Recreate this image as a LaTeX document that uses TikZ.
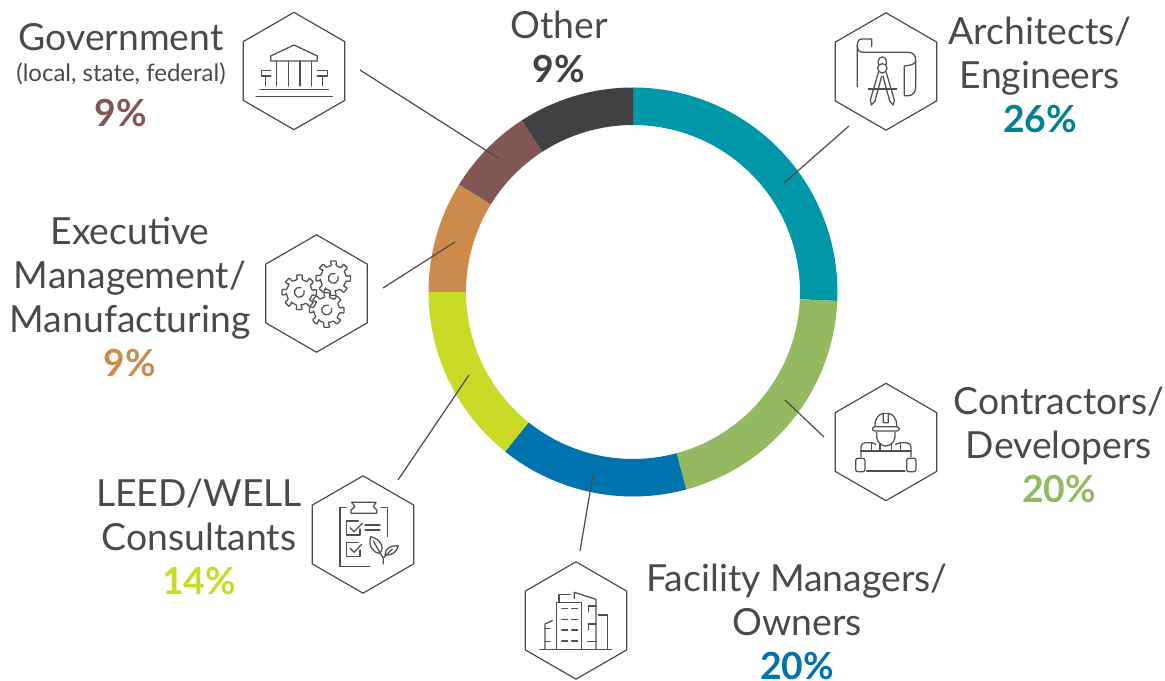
\documentclass[tikz,border=0pt]{standalone}
\usepackage{fontspec}
\setmainfont{Lato}
\usetikzlibrary{shapes.geometric}
\definecolor{ink}{HTML}{4A4A4C}
\definecolor{iconink}{HTML}{505052}
\definecolor{cteal}{HTML}{0097A9}
\definecolor{tteal}{HTML}{00818F}
\definecolor{cgreen}{HTML}{93BA60}
\definecolor{cblue}{HTML}{0072AE}
\definecolor{clime}{HTML}{CADB27}
\definecolor{corange}{HTML}{CC8A4B}
\definecolor{cbrown}{HTML}{835656}
\definecolor{cdark}{HTML}{414042}
\tikzset{
  x=0.75pt,y=-0.75pt,
  hexa/.style={shape=regular polygon,regular polygon sides=6,shape border rotate=30,draw=ink,line width=0.9pt,minimum size=88pt,inner sep=0pt},
  lead/.style={draw=ink,line width=0.9pt},
  lbl/.style={font=\fontsize{28}{33}\selectfont,text=ink,align=center,inner sep=0pt},
  icon/.style={draw=iconink,line width=0.95pt,line join=round,line cap=round},
  zoomed/.style={x=0.25pt,y=-0.25pt},
}
\newcommand{\gearicon}[2]{%
  \begin{scope}[shift={(#1,#2)}]
  \draw[icon,fill=white,rounded corners=0.6pt]
   (-8:13)
   \foreach \a in {0,45,...,315}{
     -- (\a-8:13) -- (\a-10:17.5) -- (\a+10:17.5) -- (\a+12:13) -- (\a+37:13)
   } -- cycle;
  \draw[icon] (-70:5) arc[start angle=70,end angle=380,radius=3.75pt];
  \end{scope}}
\begin{document}
\begin{tikzpicture}
\useasboundingbox (0,0) rectangle (1165,681);
% ring
\begin{scope}[shift={(633,292)},x=0.75pt,y=0.75pt]
\newcommand{\ringseg}[3]{\fill[#3] (#1:204.5) arc[start angle=#1,end angle=#2,radius=153.375pt] -- (#2:167) arc[start angle=#2,end angle=#1,radius=125.25pt] -- cycle;}
\ringseg{90}{-2.5}{cteal}
\ringseg{-2.5}{-74.9}{cgreen}
\ringseg{-74.9}{-128.7}{cblue}
\ringseg{231.3}{180}{clime}
\ringseg{180}{148.3}{corange}
\ringseg{148.3}{122.9}{cbrown}
\ringseg{122.9}{90}{cdark}
\end{scope}
% hexagons
\node[hexa] (hgov) at (294,71) {};
\node[hexa] (harch) at (886,71.5) {};
\node[hexa] (hexec) at (316.5,293.5) {};
\node[hexa] (hcont) at (886,442) {};
\node[hexa] (hleed) at (363,534.5) {};
\node[hexa] (hfac) at (576,620.5) {};
% connector ends
\coordinate (g1) at (360,70); \coordinate (g2) at (498,158);
\coordinate (a1) at (849,126); \coordinate (a2) at (784,183);
\coordinate (e1) at (383,288); \coordinate (e2) at (455,242);
\coordinate (c1) at (824,437); \coordinate (c2) at (785,400);
\coordinate (l1) at (398,480); \coordinate (l2) at (469,375);
\coordinate (f1) at (580,551); \coordinate (f2) at (593,475);
\draw[lead] (g1) -- (g2);
\draw[lead] (a1) -- (a2);
\draw[lead] (e1) -- (e2);
\draw[lead] (c1) -- (c2);
\draw[lead] (l1) -- (l2);
\draw[lead] (f1) -- (f2);
% government icon
\begin{scope}[shift={(230,0)},zoomed]
\draw[icon] (122,183) -- (122,168) -- (192,135) -- (262,168) -- (262,183) -- cycle;
\foreach \x in {140,175,210,245} \draw[icon] (\x,183) -- (\x,258);
\draw[icon] (122,212) -- (95,212) -- (95,228) -- (122,228) (107,228) -- (107,258);
\draw[icon] (262,212) -- (292,212) -- (292,228) -- (262,228) (277,228) -- (277,258);
\draw[icon] (90,268) -- (295,268);
\draw[icon] (78,289) -- (307,289);
\end{scope}
% architect icon
\begin{scope}[shift={(825,5)},zoomed]
\draw[icon] (97,245) -- (97,120) .. controls (97,108) and (102,102) .. (112,102) -- (140,102) -- (140,125);
\draw[icon] (97,120) .. controls (97,135) and (102,142) .. (115,142) -- (250,142) .. controls (265,142) and (272,152) .. (272,165) .. controls (272,175) and (265,180) .. (238,183) -- (238,272) -- (250,272) .. controls (263,272) and (272,262) .. (272,245) -- (272,165);
\draw[icon] (160,178) -- (160,168) .. controls (160,152) and (184,152) .. (184,168) -- (184,178);
\draw[icon] (172,190) circle[radius=3.5pt];
\draw[icon] (160,203) -- (136,285) -- (139,300) -- (150,288) -- (170,214);
\draw[icon] (184,203) -- (208,285) -- (205,300) -- (194,288) -- (174,214);
\draw[icon] (130,252) -- (215,252);
\end{scope}
% gears icon
\gearicon{299.3}{292.3}
\gearicon{333.3}{278.3}
\gearicon{326.7}{310}
% contractor icon
\begin{scope}[shift={(825,375)},zoomed]
\draw[icon] (150,152) .. controls (150,130) and (160,118) .. (175,115) -- (175,143) -- (190,143) -- (190,115) .. controls (205,118) and (215,130) .. (215,152);
\draw[icon] (175,115) -- (190,115);
\draw[icon] (150,155) -- (215,155) .. controls (225,156) and (225,168) .. (215,168) -- (150,168) .. controls (140,168) and (140,156) .. (150,155);
\draw[icon] (155,172) -- (155,187) .. controls (157,202) and (170,213) .. (182,213) .. controls (195,213) and (208,202) .. (210,187) -- (210,172);
\draw[icon] (108,245) -- (108,216) .. controls (108,208) and (114,203) .. (122,203) -- (140,203) -- (152,208);
\draw[icon] (258,245) -- (258,216) .. controls (258,208) and (252,203) .. (244,203) -- (226,203) -- (212,208);
\draw[icon] (165,205) -- (165,228) (200,205) -- (200,228) (140,205) -- (140,228) (226,205) -- (226,228);
\draw[icon] (108,228) -- (258,228);
\draw[icon,rounded corners=1.6pt] (92,250) rectangle (120,290);
\draw[icon,rounded corners=1.6pt] (245,250) rectangle (273,290);
\draw[icon] (125,288) -- (240,288);
\end{scope}
% LEED icon
\begin{scope}[shift={(305,465)},zoomed]
\draw[icon] (123,128) -- (105,128) -- (105,305) -- (195,305);
\draw[icon] (228,128) -- (247,128) -- (247,215);
\draw[icon] (140,112) -- (213,112) -- (205,125) -- (215,135) -- (215,145) -- (138,145) -- (138,135) -- (150,125) -- cycle;
\draw[icon] (160,168) -- (125,168) -- (125,210) -- (165,210) -- (165,192);
\draw[icon] (135,188) -- (147,200) -- (172,175);
\draw[icon] (180,180) -- (225,180) (180,195) -- (225,195);
\draw[icon] (160,232) -- (125,232) -- (125,275) -- (165,275) -- (165,255);
\draw[icon] (135,250) -- (147,262) -- (170,238);
\draw[icon] (197,215) .. controls (190,240) and (200,262) .. (224,265) .. controls (240,250) and (228,222) .. (197,215);
\draw[icon] (205,228) -- (235,280) -- (235,297);
\draw[icon] (280,243) .. controls (258,240) and (240,250) .. (240,270) .. controls (262,272) and (275,260) .. (280,243);
\draw[icon] (236,278) -- (262,252);
\end{scope}
% facility icon
\begin{scope}[shift={(515,550)},zoomed]
\draw[icon] (125,298) -- (125,157) -- (200,157) -- (200,298);
\draw[icon] (132,155) -- (132,133) -- (165,133);
\foreach \y in {175,208,240,273} \draw[icon] (140,\y) -- (158,\y) (170,\y) -- (188,\y);
\draw[icon] (178,145) -- (178,127) -- (243,148) -- (243,298);
\draw[icon] (243,168) -- (220,168) -- (220,185);
\draw[icon] (243,222) -- (220,222) -- (220,240);
\draw[icon] (218,275) -- (243,275);
\draw[icon] (250,195) -- (277,195) -- (277,298);
\draw[icon] (90,298) -- (90,222) -- (112,212);
\draw[icon] (90,235) -- (105,235) (90,275) -- (105,275);
\draw[icon] (75,298) -- (290,298);
\end{scope}
% labels
\node[lbl] (tgov) at (121,75) {Government\\[-10pt]{\fontsize{18}{33}\selectfont (local, state, federal)}\\[0.5pt]{\bfseries\color{cbrown}9\%}};
\node[lbl] (toth) at (559,47) {Other\\{\bfseries\color{cdark}9\%}};
\node[lbl] (tarc) at (1040,75) {Architects/\\Engineers\\{\bfseries\color{tteal}26\%}};
\node[lbl] (tcon) at (1059,445) {Contractors/\\Developers\\{\bfseries\color{cgreen}20\%}};
\node[lbl] (tfac) at (797,622) {Facility Managers/\\Owners\\{\bfseries\color{cblue}20\%}};
\node[lbl] (tlee) at (199,537) {LEED/WELL\\Consultants\\{\bfseries\color{clime}14\%}};
\node[lbl] (texe) at (130,297) {Executive\\Management/\\Manufacturing\\{\bfseries\color{corange}9\%}};
\end{tikzpicture}
\end{document}
